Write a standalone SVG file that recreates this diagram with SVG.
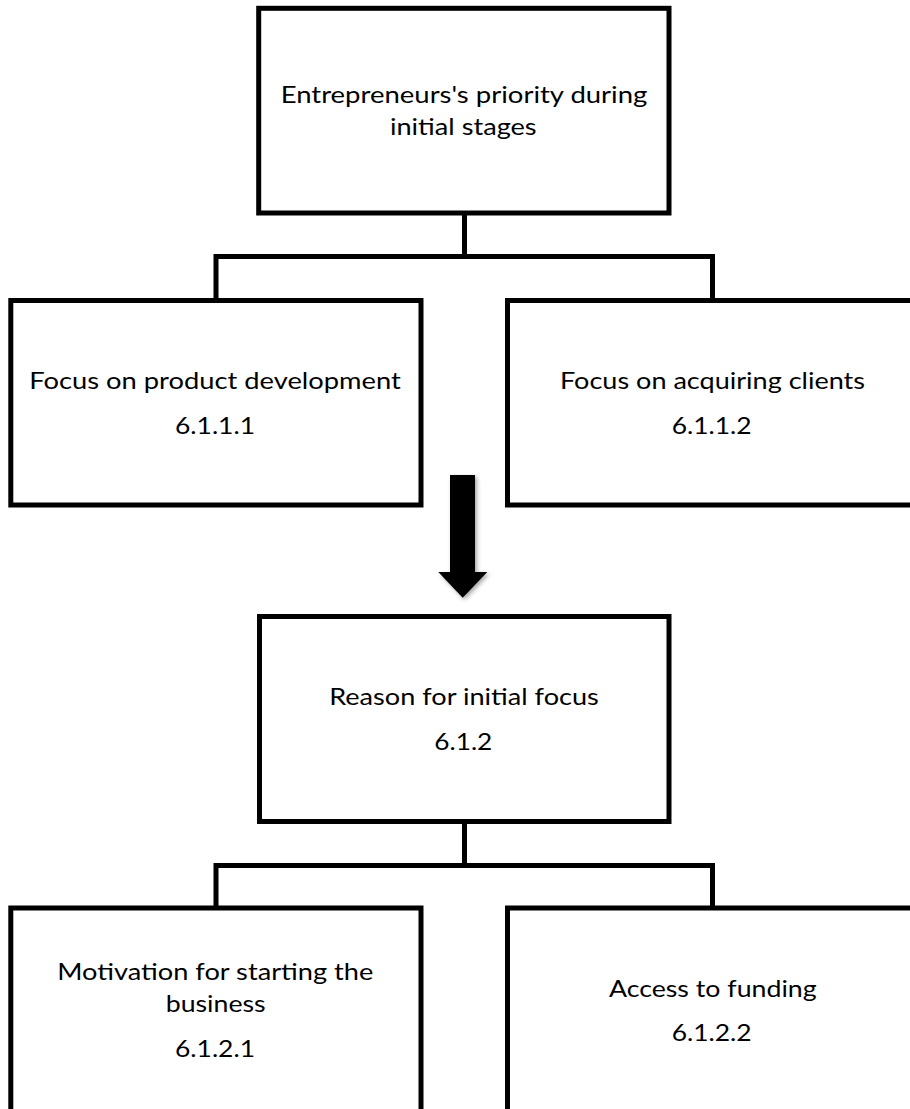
<svg xmlns="http://www.w3.org/2000/svg" width="910" height="1109" viewBox="0 0 910 1109">
  <defs>
    <filter id="soft-shadow" x="-30%" y="-10%" width="160%" height="130%">
      <feDropShadow dx="2" dy="2" stdDeviation="2" flood-color="#000" flood-opacity="0.35"/>
    </filter>
  </defs>
  <style>
    .box { fill: #fff; stroke: #000; stroke-width: 5; stroke-linejoin: miter; }
    .link { fill: none; stroke: #000; stroke-width: 5; stroke-linejoin: miter; stroke-linecap: square; }
    .label { font-family: Lato, "Open Sans", sans-serif; font-size: 23.5px; fill: #000; text-anchor: middle; }
  </style>
  <rect width="910" height="1109" fill="#fff"/>

  <!-- tree connectors -->
  <g id="connectors">
    <path class="link" d="M464.5 213 V256.5 M216 256.5 H712.5 M216 256.5 V300.5 M712.5 256.5 V300.5"/>
    <path class="link" d="M464.5 821.5 V865.5 M216 865.5 H712.5 M216 865.5 V908 M712.5 865.5 V908"/>
  </g>

  <g id="root">
    <rect class="box" x="258.7" y="8.3" width="410.3" height="204.7"/>
    <text class="label" x="464" y="103" textLength="366.7" lengthAdjust="spacingAndGlyphs">Entrepreneurs's priority during</text>
    <text class="label" x="463.3" y="134.5" textLength="146.7" lengthAdjust="spacingAndGlyphs">initial stages</text>
  </g>

  <g id="product-development">
    <rect class="box" x="10.8" y="300.5" width="410.2" height="204.5"/>
    <text class="label" x="215" y="389" textLength="371.7" lengthAdjust="spacingAndGlyphs">Focus on product development</text>
    <text class="label" x="215" y="433.5" textLength="80" lengthAdjust="spacingAndGlyphs">6.1.1.1</text>
  </g>

  <g id="acquiring-clients">
    <rect class="box" x="507.5" y="300.5" width="420" height="204.5"/>
    <text class="label" x="712.5" y="389" textLength="305" lengthAdjust="spacingAndGlyphs">Focus on acquiring clients</text>
    <text class="label" x="711.7" y="433.5" textLength="80" lengthAdjust="spacingAndGlyphs">6.1.1.2</text>
  </g>

  <!-- block arrow between the two levels -->
  <g id="down-arrow">
    <path d="M450 475 H475 V572 H487.3 L462.7 597.7 L438.3 572 H450 Z" fill="#000" filter="url(#soft-shadow)"/>
  </g>

  <g id="initial-focus">
    <rect class="box" x="259.5" y="616.5" width="409.5" height="205"/>
    <text class="label" x="464" y="705" textLength="269.7" lengthAdjust="spacingAndGlyphs">Reason for initial focus</text>
    <text class="label" x="463.3" y="749.5" textLength="58" lengthAdjust="spacingAndGlyphs">6.1.2</text>
  </g>

  <g id="motivation">
    <rect class="box" x="10.8" y="908" width="410.2" height="220"/>
    <text class="label" x="215.3" y="980" textLength="316" lengthAdjust="spacingAndGlyphs">Motivation for starting the</text>
    <text class="label" x="215.7" y="1012" textLength="100" lengthAdjust="spacingAndGlyphs">business</text>
    <text class="label" x="215" y="1057" textLength="80" lengthAdjust="spacingAndGlyphs">6.1.2.1</text>
  </g>

  <g id="funding">
    <rect class="box" x="507.5" y="908" width="420" height="220"/>
    <text class="label" x="712.8" y="997" textLength="207.7" lengthAdjust="spacingAndGlyphs">Access to funding</text>
    <text class="label" x="711.7" y="1040.5" textLength="80" lengthAdjust="spacingAndGlyphs">6.1.2.2</text>
  </g>
</svg>
